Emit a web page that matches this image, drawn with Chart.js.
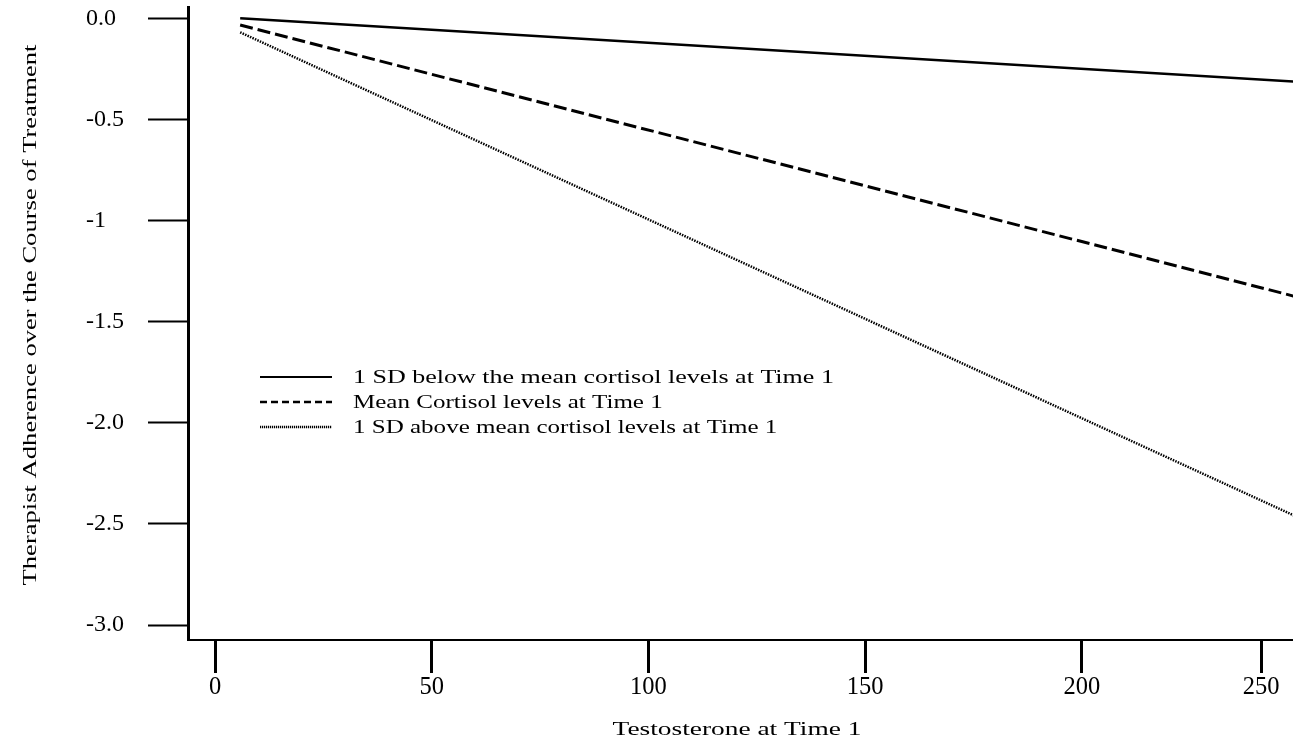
<!DOCTYPE html>
<html>
<head>
<meta charset="utf-8">
<script src="https://cdn.jsdelivr.net/npm/chart.js@4.4.1/dist/chart.umd.min.js"></script>
<style>
html,body{margin:0;padding:0;background:#fff;overflow:hidden}
#wrap{position:relative;width:1293px;height:745px}
</style>
</head>
<body>
<div id="wrap"><canvas id="c" width="1293" height="745"></canvas></div>
<script>
// ---- data ----
const xTitle = "Testosterone at Time 1";
const yTitle = "Therapist Adherence over the Course of Treatment";
const seriesLabels = [
  "1 SD below the mean cortisol levels at Time 1",
  "Mean Cortisol levels at Time 1",
  "1 SD above mean cortisol levels at Time 1"
];
const testosterone = [5.8, 250];
const belowMeanCortisol = [0.0, -0.314];
const meanCortisol = [-0.033, -1.380];
const aboveMeanCortisol = [-0.069, -2.469];
const xTickValues = [0, 50, 100, 150, 200, 250];
const xTickLabels = ["0", "50", "100", "150", "200", "250"];
const yTickValues = [0, -0.5, -1, -1.5, -2, -2.5, -3];
const yTickLabels = ["0.0", "-0.5", "-1", "-1.5", "-2.0", "-2.5", "-3.0"];

const SERIF = '"Liberation Serif", "Times New Roman", serif';
const toPts = (ys) => testosterone.map((x, i) => ({ x: x, y: ys[i] }));

const legendStyles = [
  { dash: [], width: 2 },
  { dash: [7, 4], width: 2.5 },
  { dash: [1.2, 0.8], width: 2.5 }
];
const legendStretch = [1.445, 1.39, 1.39];

const annotations = {
  id: 'annotations',
  afterDraw(chart) {
    const ctx = chart.ctx;
    ctx.save();
    ctx.fillStyle = '#000';
    ctx.strokeStyle = '#000';
    // x axis title
    ctx.save();
    ctx.font = '18.5px ' + SERIF;
    ctx.textAlign = 'center';
    ctx.textBaseline = 'alphabetic';
    ctx.translate(737, 735);
    ctx.scale(1.48, 1);
    ctx.fillText(xTitle, 0, 0);
    ctx.restore();
    // y axis title
    ctx.save();
    ctx.font = '18.5px ' + SERIF;
    ctx.textAlign = 'center';
    ctx.textBaseline = 'alphabetic';
    ctx.translate(36, 315);
    ctx.rotate(-Math.PI / 2);
    ctx.scale(1.437, 1);
    ctx.fillText(yTitle, 0, 0);
    ctx.restore();
    // legend inside plot
    const rows = [377, 402, 427];
    chart.data.datasets.forEach((ds, i) => {
      const y = rows[i];
      const st = legendStyles[i];
      ctx.save();
      ctx.lineWidth = st.width;
      ctx.setLineDash(st.dash);
      ctx.beginPath();
      ctx.moveTo(260, y);
      ctx.lineTo(332, y);
      ctx.stroke();
      ctx.restore();
      ctx.save();
      ctx.font = '18px ' + SERIF;
      ctx.textAlign = 'left';
      ctx.textBaseline = 'alphabetic';
      ctx.translate(353, y + 6);
      ctx.scale(legendStretch[i], 1);
      ctx.fillText(ds.label, 0, 0);
      ctx.restore();
    });
    ctx.restore();
  }
};

new Chart(document.getElementById('c'), {
  type: 'line',
  data: {
    datasets: [
      { label: seriesLabels[0], data: toPts(belowMeanCortisol), borderColor: '#000', borderWidth: 2.5, borderDash: [], pointRadius: 0, fill: false, tension: 0 },
      { label: seriesLabels[1], data: toPts(meanCortisol), borderColor: '#000', borderWidth: 3, borderDash: [13, 5], pointRadius: 0, fill: false, tension: 0 },
      { label: seriesLabels[2], data: toPts(aboveMeanCortisol), borderColor: '#000', borderWidth: 2.5, borderDash: [1.5, 1.2], pointRadius: 0, fill: false, tension: 0 }
    ]
  },
  options: {
    responsive: false,
    animation: false,
    events: [],
    layout: { padding: { top: 7, right: 0, left: 86, bottom: 0 } },
    plugins: { legend: { display: false }, tooltip: { enabled: false }, title: { display: false } },
    scales: {
      x: {
        type: 'linear',
        position: 'bottom',
        min: -6.23,
        max: 248.68,
        afterBuildTicks(scale) {
          // the printed "250" tick of the reference sits left of its nominal place
          scale.ticks = xTickValues.map((v, i) => ({ value: v > scale.max ? 241.3 : v, label: xTickLabels[i] }));
        },
        afterFit(scale) {
          scale.height = 105;
          scale.paddingLeft = 0; scale.paddingRight = 0;
        },
        border: { display: true, color: '#000', width: 2 },
        grid: { display: true, drawOnChartArea: false, drawTicks: true, tickLength: 33, tickWidth: 3, tickColor: '#000' },
        ticks: {
          color: '#000',
          font: { family: SERIF, size: 24.5 },
          padding: 0,
          maxRotation: 0,
          autoSkip: false,
          callback: function (v, i) { return xTickLabels[i]; }
        },
        title: { display: false }
      },
      y: {
        type: 'linear',
        position: 'left',
        min: -3.074,
        max: 0.056,
        afterBuildTicks(scale) {
          scale.ticks = yTickValues.map((v, i) => ({ value: v, label: yTickLabels[i] }));
        },
        afterFit(scale) {
          scale.width = 102;
          scale.paddingTop = 0; scale.paddingBottom = 0;
        },
        border: { display: true, color: '#000', width: 3 },
        grid: { display: true, drawOnChartArea: false, drawTicks: true, tickLength: 40, tickWidth: 2, tickColor: '#000' },
        ticks: {
          color: '#000',
          font: { family: SERIF, size: 24 },
          padding: 20,
          crossAlign: 'far',
          autoSkip: false,
          callback: function (v, i) { return yTickLabels[i]; }
        },
        title: { display: false }
      }
    }
  },
  plugins: [annotations]
});
</script>
</body>
</html>
